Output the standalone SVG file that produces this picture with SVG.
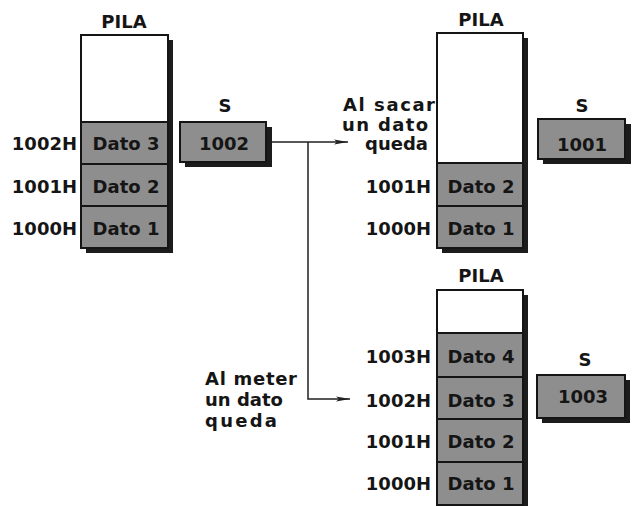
<svg xmlns="http://www.w3.org/2000/svg" width="634" height="506" viewBox="0 0 634 506">
<defs>
<style>
text{font-family:"DejaVu Sans","Liberation Sans",sans-serif;font-weight:bold;font-size:18px;fill:#151515}
.c{text-anchor:middle}
.r{text-anchor:end}
.sh{fill:#1c1c1c}
.wh{fill:#ffffff;stroke:#151515;stroke-width:2}
.cell{fill:#8e8e8e;stroke:#151515;stroke-width:2}
.ln{fill:none;stroke:#202020;stroke-width:1.5}
</style>
<marker id="ah" viewBox="0 0 14 6" refX="14" refY="3" markerWidth="14" markerHeight="6" markerUnits="userSpaceOnUse" orient="auto">
<path d="M0,0.5 L14,3 L0,5.5 L3,3 Z" fill="#202020"/>
</marker>
</defs>
<rect width="634" height="506" fill="#ffffff"/>

<g id="pila-inicial">
<text class="c" x="124" y="28">PILA</text>
<rect class="sh" x="86" y="40" width="87" height="213"/>
<rect class="wh" x="81" y="35" width="87" height="87"/>
<rect class="cell" x="81" y="122" width="87" height="42"/>
<rect class="cell" x="81" y="164" width="87" height="42"/>
<rect class="cell" x="81" y="206" width="87" height="42"/>
<text class="c" x="126" y="150">Dato 3</text>
<text class="c" x="126" y="193">Dato 2</text>
<text class="c" x="126" y="235">Dato 1</text>
<text class="r" x="77" y="150">1002H</text>
<text class="r" x="77" y="193">1001H</text>
<text class="r" x="77" y="235">1000H</text>
</g>

<g id="s-inicial">
<text class="c" x="225" y="112">S</text>
<rect class="sh" x="185" y="127" width="87" height="40"/>
<rect class="cell" x="180" y="122" width="86" height="40"/>
<text class="c" x="224" y="150">1002</text>
</g>

<g id="pila-sacar">
<text class="c" x="481" y="26">PILA</text>
<rect class="sh" x="442" y="38" width="86" height="215"/>
<rect class="wh" x="437" y="33" width="86" height="130"/>
<rect class="cell" x="437" y="163" width="86" height="43"/>
<rect class="cell" x="437" y="206" width="86" height="42"/>
<text class="c" x="481" y="193">Dato 2</text>
<text class="c" x="481" y="235">Dato 1</text>
<text class="r" x="431" y="193">1001H</text>
<text class="r" x="431" y="235">1000H</text>
<text x="343" y="111" textLength="92" lengthAdjust="spacing">Al sacar</text>
<text x="342" y="131" textLength="86" lengthAdjust="spacing">un dato</text>
<text x="365" y="150">queda</text>
</g>

<g id="s-sacar">
<text class="c" x="582" y="112">S</text>
<rect class="sh" x="543" y="124" width="88" height="40"/>
<rect class="cell" x="538" y="119" width="87" height="40"/>
<text class="c" x="582" y="151">1001</text>
</g>

<g id="pila-meter">
<text class="c" x="481" y="282">PILA</text>
<rect class="sh" x="442" y="295" width="86" height="220"/>
<rect class="wh" x="437" y="290" width="86" height="43"/>
<rect class="cell" x="437" y="333" width="86" height="44"/>
<rect class="cell" x="437" y="377" width="86" height="42"/>
<rect class="cell" x="437" y="419" width="86" height="43"/>
<rect class="cell" x="437" y="462" width="86" height="43"/>
<text class="c" x="481" y="363">Dato 4</text>
<text class="c" x="481" y="407">Dato 3</text>
<text class="c" x="481" y="448">Dato 2</text>
<text class="c" x="481" y="490">Dato 1</text>
<text class="r" x="431" y="363">1003H</text>
<text class="r" x="431" y="407">1002H</text>
<text class="r" x="431" y="448">1001H</text>
<text class="r" x="431" y="490">1000H</text>
<text x="205" y="385" textLength="92" lengthAdjust="spacing">Al meter</text>
<text x="205" y="406">un dato</text>
<text x="205" y="427" textLength="72" lengthAdjust="spacing">queda</text>
</g>

<g id="s-meter">
<text class="c" x="585" y="366">S</text>
<rect class="sh" x="542" y="380" width="88" height="43"/>
<rect class="cell" x="537" y="375" width="88" height="43"/>
<text class="c" x="583" y="403">1003</text>
</g>

<g id="conectores">
<path class="ln" d="M271,142 H348" marker-end="url(#ah)"/>
<path class="ln" d="M308,142 V399 H350" marker-end="url(#ah)"/>
</g>
</svg>
